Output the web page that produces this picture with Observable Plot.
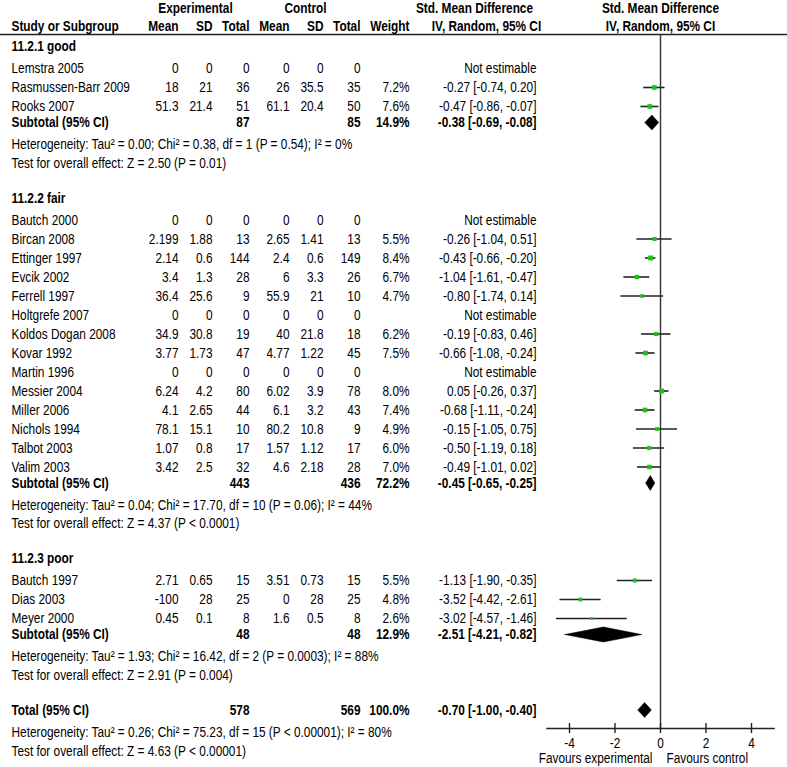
<!DOCTYPE html>
<html><head><meta charset="utf-8">
<script src="https://cdn.jsdelivr.net/npm/d3@7"></script>
<script src="https://cdn.jsdelivr.net/npm/@observablehq/plot@0.6"></script>
<style>
body{margin:0;background:#fff;}
</style></head><body><div id="chart"></div>
<script>
// ---------- data ----------
const groupNames = ["11.2.1 good", "11.2.2 fair", "11.2.3 poor"];
const studyNames = ["Lemstra 2005","Rasmussen-Barr 2009","Rooks 2007",
  "Bautch 2000","Bircan 2008","Ettinger 1997","Evcik 2002","Ferrell 1997","Holtgrefe 2007","Koldos Dogan 2008","Kovar 1992","Martin 1996","Messier 2004","Miller 2006","Nichols 1994","Talbot 2003","Valim 2003",
  "Bautch 1997","Dias 2003","Meyer 2000"];
const studyGroup = [0,0,0, 1,1,1,1,1,1,1,1,1,1,1,1,1,1, 2,2,2];
const expMean = [0,18,51.3, 0,2.199,2.14,3.4,36.4,0,34.9,3.77,0,6.24,4.1,78.1,1.07,3.42, 2.71,-100,0.45];
const expSD   = [0,21,21.4, 0,1.88,0.6,1.3,25.6,0,30.8,1.73,0,4.2,2.65,15.1,0.8,2.5, 0.65,28,0.1];
const expN    = [0,36,51, 0,13,144,28,9,0,19,47,0,80,44,10,17,32, 15,25,8];
const ctlMean = [0,26,61.1, 0,2.65,2.4,6,55.9,0,40,4.77,0,6.02,6.1,80.2,1.57,4.6, 3.51,0,1.6];
const ctlSD   = [0,35.5,20.4, 0,1.41,0.6,3.3,21,0,21.8,1.22,0,3.9,3.2,10.8,1.12,2.18, 0.73,28,0.5];
const ctlN    = [0,35,50, 0,13,149,26,10,0,18,45,0,78,43,9,17,28, 15,25,8];
const weight  = [null,7.2,7.6, null,5.5,8.4,6.7,4.7,null,6.2,7.5,null,8.0,7.4,4.9,6.0,7.0, 5.5,4.8,2.6];
const smd     = [null,-0.27,-0.47, null,-0.26,-0.43,-1.04,-0.80,null,-0.19,-0.66,null,0.05,-0.68,-0.15,-0.50,-0.49, -1.13,-3.52,-3.02];
const ciLow   = [null,-0.74,-0.86, null,-1.04,-0.66,-1.61,-1.74,null,-0.83,-1.08,null,-0.26,-1.11,-1.05,-1.19,-1.01, -1.90,-4.42,-4.57];
const ciHigh  = [null,0.20,-0.07, null,0.51,-0.20,-0.47,0.14,null,0.46,-0.24,null,0.37,-0.24,0.75,0.18,0.02, -0.35,-2.61,-1.46];

const subExpN = [87, 443, 48];
const subCtlN = [85, 436, 48];
const subWeight = [14.9, 72.2, 12.9];
const subSmd = [-0.38, -0.45, -2.51];
const subLow = [-0.69, -0.65, -4.21];
const subHigh = [-0.08, -0.25, -0.82];
const hetTau2 = ["0.00", "0.04", "1.93"];
const hetChi2 = ["0.38", "17.70", "16.42"];
const hetDf = [1, 10, 2];
const hetP = ["= 0.54", "= 0.06", "= 0.0003"];
const hetI2 = [0, 44, 88];
const testZ = ["2.50", "4.37", "2.91"];
const testP = ["= 0.01", "< 0.0001", "= 0.004"];

const totalExpN = 578, totalCtlN = 569, totalWeight = "100.0";
const totalSmd = -0.70, totalLow = -1.00, totalHigh = -0.40;
const totalHet = {tau2: "0.26", chi2: "75.23", df: 15, p: "< 0.00001", i2: 80};
const totalTest = {z: "4.63", p: "< 0.00001"};

const xTicks = [-4, -2, 0, 2, 4];
const xLabels = ["Favours experimental", "Favours control"];

// ---------- layout ----------
const FONT = '"Liberation Sans",Arial,sans-serif';
const FS = 15;
const NARROW = 0.79;
const fmtEff = (e, l, h) => `${e.toFixed(2)} [${l.toFixed(2)}, ${h.toFixed(2)}]`;
const hetStr = (t, c, d, p, i) => `Heterogeneity: Tau² = ${t}; Chi² = ${c}, df = ${d} (P ${p}); I² = ${i}%`;
const testStr = (z, p) => `Test for overall effect: Z = ${z} (P ${p})`;

const table = [];
const notes = [];
const studies = [];
const diamonds = [];
let y = 46;
groupNames.forEach((g, gi) => {
  table.push({y, label: g, bold: true});
  y += 22;
  let first = true;
  studyNames.forEach((name, i) => {
    if (studyGroup[i] !== gi) return;
    if (!first) y += 19;
    first = false;
    const est = smd[i] != null;
    table.push({y, label: name, em: String(expMean[i]), esd: String(expSD[i]), en: String(expN[i]),
      cm: String(ctlMean[i]), csd: String(ctlSD[i]), cn: String(ctlN[i]),
      w: est ? weight[i].toFixed(1) + "%" : "",
      eff: est ? fmtEff(smd[i], ciLow[i], ciHigh[i]) : "Not estimable", bold: false});
    if (est) studies.push({y, est: smd[i], lo: ciLow[i], hi: ciHigh[i], w: weight[i]});
  });
  y += 16;
  table.push({y, label: "Subtotal (95% CI)", en: String(subExpN[gi]), cn: String(subCtlN[gi]),
    w: subWeight[gi].toFixed(1) + "%", eff: fmtEff(subSmd[gi], subLow[gi], subHigh[gi]), bold: true});
  diamonds.push({y, est: subSmd[gi], lo: subLow[gi], hi: subHigh[gi], id: gi});
  y += 22;
  notes.push({y, text: hetStr(hetTau2[gi], hetChi2[gi], hetDf[gi], hetP[gi], hetI2[gi])});
  y += 18.5;
  notes.push({y, text: testStr(testZ[gi], testP[gi])});
  y += 35;
});
table.push({y, label: "Total (95% CI)", en: String(totalExpN), cn: String(totalCtlN),
  w: totalWeight + "%", eff: fmtEff(totalSmd, totalLow, totalHigh), bold: true});
diamonds.push({y, est: totalSmd, lo: totalLow, hi: totalHigh, id: 3});
y += 22;
notes.push({y, text: hetStr(totalHet.tau2, totalHet.chi2, totalHet.df, totalHet.p, totalHet.i2)});
y += 19;
notes.push({y, text: testStr(totalTest.z, totalTest.p)});

const DH = 7.5;
const diamondPts = diamonds.flatMap(d => [
  {id: d.id, x: d.lo, y: d.y}, {id: d.id, x: d.est, y: d.y - DH},
  {id: d.id, x: d.hi, y: d.y}, {id: d.id, x: d.est, y: d.y + DH}, {id: d.id, x: d.lo, y: d.y}]);

const cols = [
  {key: "label", dx: 11, anchor: "start"},
  {key: "em", dx: 178}, {key: "esd", dx: 212}, {key: "en", dx: 249},
  {key: "cm", dx: 289}, {key: "csd", dx: 323}, {key: "cn", dx: 360},
  {key: "w", dx: 409}, {key: "eff", dx: 536}];

const headers2 = [
  {t: "Study or Subgroup", dx: 11, a: "start"}, {t: "Mean", dx: 178, a: "end"}, {t: "SD", dx: 212, a: "end"},
  {t: "Total", dx: 249, a: "end"}, {t: "Mean", dx: 289, a: "end"}, {t: "SD", dx: 323, a: "end"},
  {t: "Total", dx: 360, a: "end"}, {t: "Weight", dx: 409, a: "end"}, {t: "IV, Random, 95% CI", dx: 486, a: "middle"},
  {t: "IV, Random, 95% CI", dx: 660, a: "middle"}];
const headers1 = [
  {t: "Experimental", dx: 195}, {t: "Control", dx: 305},
  {t: "Std. Mean Difference", dx: 474}, {t: "Std. Mean Difference", dx: 660}];

const marks = [];
const HY1 = 8, HY2 = 26, HL = 34;
headers1.forEach(h => marks.push(Plot.text([h], {y: () => HY1, text: d => d.t, frameAnchor: "left", dx: h.dx, textAnchor: "middle", fontWeight: "bold"})));
headers2.forEach(h => marks.push(Plot.text([h], {y: () => HY2, text: d => d.t, frameAnchor: "left", dx: h.dx, textAnchor: h.a, fontWeight: "bold"})));
marks.push(Plot.ruleY([HL], {y: d => d, stroke: "#222", strokeWidth: 1.5}));

cols.forEach(c => {
  [false, true].forEach(b => {
    marks.push(Plot.text(table.filter(r => r.bold === b && r[c.key] != null), {
      y: "y", text: d => d[c.key], frameAnchor: "left", dx: c.dx,
      textAnchor: c.anchor || "end", fontWeight: b ? "bold" : "normal"}));
  });
});
marks.push(Plot.text(notes, {y: "y", text: "text", frameAnchor: "left", dx: 11, textAnchor: "start"}));

const AXY = 728;
marks.push(Plot.ruleX([0], {x: d => d, y1: HL, y2: AXY, stroke: "#333", strokeWidth: 1.4}));
marks.push(Plot.ruleY(studies, {x1: "lo", x2: "hi", y: "y", stroke: "#222", strokeWidth: 1.6}));
marks.push(Plot.dot(studies, {x: "est", y: "y", r: "w", symbol: "square", fill: "#18c418", stroke: "none"}));
marks.push(Plot.line(diamondPts, {x: "x", y: "y", z: "id", fill: "black", stroke: "black", strokeWidth: 0.5}));

marks.push(Plot.ruleY([AXY], {y: d => d, x1: () => -5, x2: () => 5.05, stroke: "#222", strokeWidth: 1.4}));
marks.push(Plot.ruleX(xTicks, {x: d => d, y1: () => AXY - 5, y2: () => AXY + 5, stroke: "#222", strokeWidth: 1.4}));
marks.push(Plot.text(xTicks, {x: d => d, y: () => AXY + 15, text: d => d < 0 ? "-" + Math.abs(d) : String(d)}));
marks.push(Plot.text([xLabels[0]], {x: () => 0, y: () => AXY + 30, text: d => d, textAnchor: "end", dx: -8}));
marks.push(Plot.text([xLabels[1]], {x: () => 0, y: () => AXY + 30, text: d => d, textAnchor: "start", dx: 6}));

const chart = Plot.plot({
  width: 787, height: 767,
  marginLeft: 0, marginRight: 0, marginTop: 0, marginBottom: 0,
  x: {domain: [-5, 5], range: [546.25, 773.75], axis: null},
  y: {type: "identity", axis: null},
  r: {type: "sqrt", domain: [0, 8.4], range: [0, 2.8]},
  style: {fontFamily: FONT, fontSize: FS + "px", color: "#000", background: "#fff"},
  marks
});
// condense the text horizontally around each text's anchor point (Arial Narrow look)
chart.querySelectorAll("text").forEach(t => {
  const x = parseFloat(t.getAttribute("x")) || 0;
  const tr = t.getAttribute("transform") || "";
  t.setAttribute("transform", `${tr} translate(${x},0) scale(${NARROW},1) translate(${-x},0)`);
});
document.getElementById("chart").appendChild(chart);
</script>
</body></html>
